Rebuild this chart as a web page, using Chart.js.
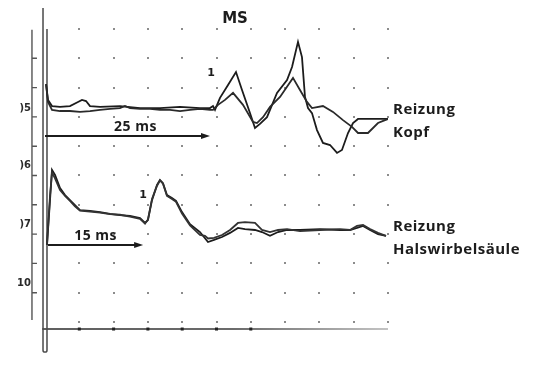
<!DOCTYPE html>
<html>
<head>
<meta charset="utf-8">
<script src="https://cdn.jsdelivr.net/npm/chart.js@4.4.1/dist/chart.umd.min.js"></script>
<style>
  html, body { margin: 0; padding: 0; background: #fff; }
</style>
</head>
<body>
<canvas id="mepChart" width="541" height="366"></canvas>
<script>
// Time in ms, amplitude in grid divisions
const kopf1Ms  = [0.15, 0.44, 1.02, 2.19, 3.64, 4.81, 5.39, 5.98, 6.56, 8.02, 10.93, 13.85, 16.76, 19.68, 22.59, 24.05, 24.49, 24.78, 25.51, 26.68, 27.84, 28.72, 29.88, 30.61, 31.34, 32.36, 33.82, 35.28, 36.01, 36.88, 37.46, 37.90, 38.34, 38.92, 39.65, 40.52, 41.55, 42.57, 43.29, 44.17, 44.90, 45.63, 47.38, 50.00];
const kopf1Val = [8.12, 7.58, 7.37, 7.34, 7.37, 7.51, 7.58, 7.54, 7.37, 7.34, 7.37, 7.30, 7.30, 7.34, 7.30, 7.30, 7.37, 7.24, 7.65, 8.09, 8.53, 7.92, 7.13, 6.62, 6.76, 6.99, 7.82, 8.26, 8.70, 9.56, 9.04, 7.68, 7.30, 7.13, 6.55, 6.11, 6.04, 5.77, 5.87, 6.45, 6.79, 6.93, 6.93, 6.93];

const kopf2Ms  = [0.15, 0.44, 1.02, 2.19, 3.64, 5.10, 6.56, 8.02, 9.48, 10.93, 11.66, 12.39, 13.85, 15.31, 16.76, 18.22, 19.68, 21.14, 22.59, 24.05, 24.49, 25.22, 26.24, 27.41, 28.86, 30.32, 30.90, 31.78, 32.80, 34.26, 36.15, 37.17, 38.19, 38.92, 40.52, 41.98, 43.44, 44.75, 45.63, 47.08, 48.54, 50.00];
const kopf2Val = [8.12, 7.51, 7.24, 7.20, 7.20, 7.17, 7.20, 7.24, 7.27, 7.30, 7.37, 7.30, 7.27, 7.27, 7.24, 7.24, 7.20, 7.24, 7.27, 7.24, 7.24, 7.41, 7.58, 7.82, 7.41, 6.83, 6.79, 6.99, 7.34, 7.68, 8.33, 7.92, 7.51, 7.30, 7.37, 7.17, 6.89, 6.66, 6.45, 6.45, 6.79, 6.93];

const hws1Ms  = [0.29, 0.73, 1.02, 1.46, 2.19, 2.92, 3.64, 4.37, 5.10, 6.56, 8.02, 9.48, 10.93, 12.39, 13.85, 14.58, 15.01, 15.60, 16.33, 16.76, 17.20, 17.78, 18.51, 19.10, 19.97, 21.14, 22.59, 23.76, 24.64, 25.80, 26.97, 28.13, 29.15, 30.61, 31.63, 32.80, 33.97, 35.28, 37.17, 40.09, 43.00, 44.46, 45.48, 46.36, 47.38, 48.54, 49.71];
const hws1Val = [2.63, 4.16, 5.19, 5.02, 4.57, 4.33, 4.16, 3.99, 3.82, 3.79, 3.75, 3.69, 3.65, 3.62, 3.55, 3.38, 3.48, 4.16, 4.68, 4.85, 4.74, 4.33, 4.23, 4.13, 3.75, 3.34, 3.07, 2.73, 2.80, 2.90, 3.04, 3.21, 3.17, 3.14, 3.07, 2.94, 3.07, 3.14, 3.14, 3.17, 3.14, 3.14, 3.21, 3.28, 3.14, 3.00, 2.94];

const hws2Ms  = [0.29, 0.73, 1.02, 1.46, 2.19, 2.92, 3.64, 4.37, 5.10, 6.56, 8.02, 9.48, 10.93, 12.39, 13.85, 14.58, 15.01, 15.60, 16.33, 16.76, 17.20, 17.78, 18.51, 19.10, 19.97, 21.14, 22.59, 23.32, 23.76, 24.64, 25.80, 26.97, 28.13, 29.15, 30.61, 31.63, 32.80, 33.97, 35.28, 37.17, 40.09, 43.00, 44.46, 45.48, 46.36, 47.38, 48.54, 49.71];
const hws2Val = [2.63, 4.30, 5.10, 4.90, 4.50, 4.30, 4.13, 3.95, 3.80, 3.77, 3.73, 3.68, 3.66, 3.60, 3.52, 3.36, 3.50, 4.20, 4.65, 4.83, 4.72, 4.30, 4.20, 4.10, 3.70, 3.30, 2.97, 2.94, 2.85, 2.87, 2.97, 3.14, 3.38, 3.41, 3.38, 3.14, 3.07, 3.14, 3.17, 3.10, 3.14, 3.17, 3.14, 3.28, 3.31, 3.17, 3.04, 2.94];

// grid and ruler
const gridMs = [5, 10, 15, 20, 25, 30, 35, 40, 45, 50];
const gridRows = [0, 1, 2, 3, 4, 5, 6, 7, 8, 9, 10];
const rulerTicks = [1, 2, 3, 4, 5, 6, 7, 8, 9];
const rulerLabels = [')5', ')6', ')7', '10'];
const rulerLabelRows = [7.3, 5.36, 3.34, 1.33];

// latency arrows
const arrowStartMs = [0, 0.44];
const arrowEndMs = [24.05, 14.3];
const arrowRows = [6.35, 2.63];
const arrowLabels = ['25 ms', '15 ms'];
const markMs = [24.2, 14.3];
const markRows = [8.5, 4.33];

const traceLabels = [['Reizung', 'Kopf'], ['Reizung', 'Halswirbelsäule']];

const toPoints = (ms, val) => ms.map((t, i) => ({ x: t, y: val[i] }));

const INK = '#1c1c1c';

const figure = {
    id: 'figure',
    beforeDatasetsDraw(chart) {
        const ctx = chart.ctx;
        const px = v => chart.scales.x.getPixelForValue(v);
        const py = v => chart.scales.y.getPixelForValue(v);
        ctx.save();

        // dotted grid
        ctx.fillStyle = '#8c8c8c';
        gridMs.forEach(t => gridRows.forEach(r => {
            ctx.fillRect(Math.round(px(t)) - 1, Math.round(py(r)) - 1, 2, 2);
        }));

        // bottom axis
        const yb = py(-0.24);
        const grad = ctx.createLinearGradient(px(0), 0, px(50), 0);
        grad.addColorStop(0, '#2a2a2a');
        grad.addColorStop(0.55, '#3a3a3a');
        grad.addColorStop(1, '#b0b0b0');
        ctx.strokeStyle = grad;
        ctx.lineWidth = 1.6;
        ctx.beginPath();
        ctx.moveTo(px(-0.4), yb);
        ctx.lineTo(px(50), yb);
        ctx.stroke();
        ctx.fillStyle = '#222';
        gridMs.slice(0, 6).forEach(t => ctx.fillRect(px(t) - 1.5, yb - 1.5, 3, 3));

        // double vertical axis
        ctx.lineWidth = 1.5;
        ctx.strokeStyle = '#4a4a4a';
        ctx.beginPath();
        ctx.moveTo(px(-0.29), py(10.72));
        ctx.lineTo(px(-0.29), py(-0.96));
        ctx.arc(px(0), py(-0.96), px(0) - px(-0.29), Math.PI, 0, true);
        ctx.lineTo(px(0.29), py(10.0));
        ctx.stroke();

        // ruler on the left
        ctx.strokeStyle = '#555';
        ctx.lineWidth = 1.4;
        ctx.beginPath();
        ctx.moveTo(px(-1.9), py(9.97));
        ctx.lineTo(px(-1.9), py(0.07));
        rulerTicks.forEach(r => {
            ctx.moveTo(px(-1.9), py(r));
            ctx.lineTo(px(-1.9) + 5, py(r));
        });
        ctx.stroke();
        ctx.fillStyle = '#2a2a2a';
        ctx.font = 'bold 10px "DejaVu Sans"';
        ctx.textAlign = 'right';
        ctx.textBaseline = 'middle';
        rulerLabels.forEach((s, i) => ctx.fillText(s, px(-1.9) - 1, py(rulerLabelRows[i])));
        ctx.restore();
    },
    afterDatasetsDraw(chart) {
        const ctx = chart.ctx;
        const px = v => chart.scales.x.getPixelForValue(v);
        const py = v => chart.scales.y.getPixelForValue(v);
        ctx.save();
        ctx.fillStyle = INK;
        ctx.strokeStyle = INK;
        ctx.textAlign = 'center';
        ctx.textBaseline = 'middle';

        // title
        ctx.font = 'bold 15px "DejaVu Sans"';
        ctx.fillText('MS', px(27.7), py(10.34));

        // latency marks
        ctx.font = 'bold 11px "DejaVu Sans"';
        markMs.forEach((t, i) => ctx.fillText('1', px(t), py(markRows[i])));

        // arrows
        arrowEndMs.forEach((t, i) => {
            const y = py(arrowRows[i]);
            const x0 = px(arrowStartMs[i]), x1 = px(t);
            ctx.lineWidth = 2;
            ctx.beginPath();
            ctx.moveTo(x0, y);
            ctx.lineTo(x1 - 6, y);
            ctx.stroke();
            ctx.beginPath();
            ctx.moveTo(x1, y);
            ctx.lineTo(x1 - 9, y - 3);
            ctx.lineTo(x1 - 9, y + 3);
            ctx.closePath();
            ctx.fill();
            ctx.font = 'bold 14px "Open Sans"';
            ctx.letterSpacing = '0.5px';
            ctx.fillText(arrowLabels[i], (x0 + x1) / 2 + (i === 0 ? 8 : 0), y - 9);
        });

        // trace labels
        ctx.font = 'bold 15px "Open Sans"';
        ctx.letterSpacing = '0.5px';
        ctx.textAlign = 'left';
        const ends = [kopf1Val[kopf1Val.length - 1], hws1Val[hws1Val.length - 1]];
        traceLabels.forEach((lines, i) => {
            const y = py(ends[i]);
            ctx.fillText(lines[0], px(50) + 5, y - 9);
            ctx.fillText(lines[1], px(50) + 5, y + 14);
        });
        ctx.restore();
    }
};

const trace = (data, color) => ({
    data: data,
    showLine: true,
    borderColor: color,
    borderWidth: 1.8,
    pointRadius: 0,
    tension: 0,
    fill: false
});

new Chart(document.getElementById('mepChart'), {
    type: 'scatter',
    data: {
        datasets: [
            trace(toPoints(kopf2Ms, kopf2Val), '#2a2a2a'),
            trace(toPoints(kopf1Ms, kopf1Val), INK),
            trace(toPoints(hws2Ms, hws2Val), '#333'),
            trace(toPoints(hws1Ms, hws1Val), INK)
        ]
    },
    options: {
        responsive: false,
        animation: false,
        layout: { padding: { left: 45, right: 153, top: 7, bottom: 14.7 } },
        plugins: { legend: { display: false }, tooltip: { enabled: false } },
        scales: {
            x: { type: 'linear', min: 0, max: 50, display: false },
            y: { type: 'linear', min: -1, max: 10.75, display: false }
        }
    },
    plugins: [figure]
});
</script>
</body>
</html>
